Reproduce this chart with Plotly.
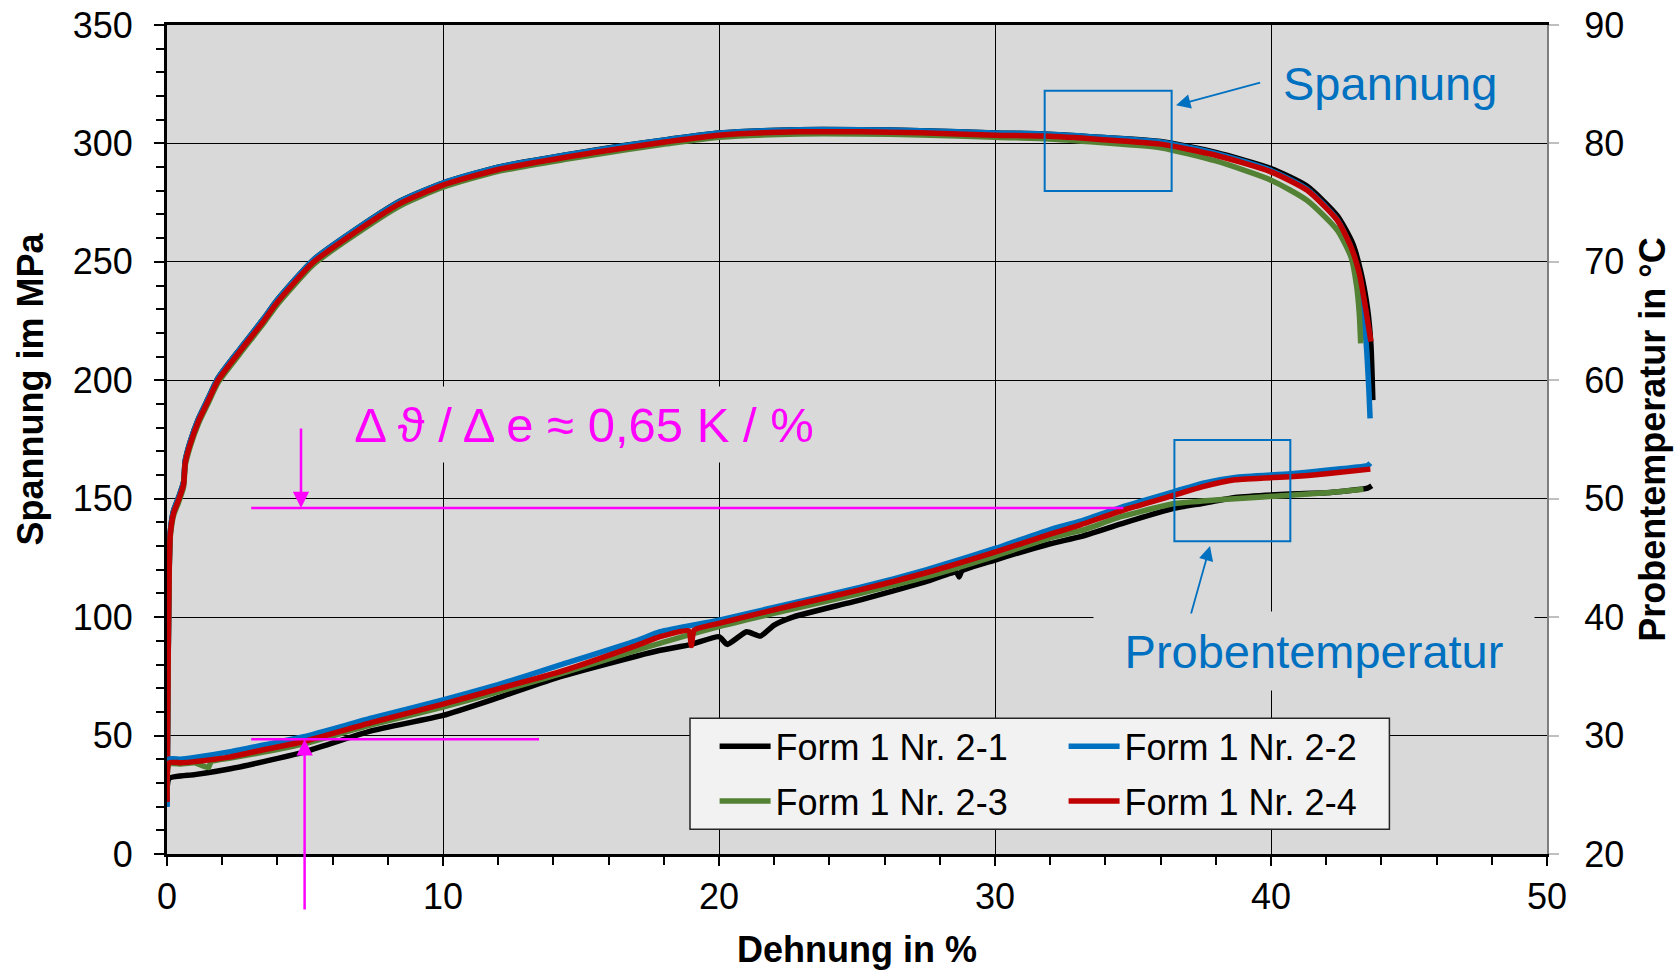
import plotly.graph_objects as go

# ---------------- data ----------------
# Stress curves: strain in %, stress in MPa
strain_s21 = [0.0, 0.04, 0.08, 0.12, 0.24, 0.42, 0.6, 0.66, 0.84, 1.15, 1.5, 1.85, 2.66, 3.5, 4.0, 5.3, 6.5, 8.45,
              10.0, 12.0, 14.5, 16.5, 18.1, 20.0, 22.9, 25.1, 27.3, 30.0, 31.8, 33.8, 36.0, 38.0, 40.0, 41.3, 42.4,
              42.95, 43.25, 43.5, 43.62, 43.69]
stress_21 = [22, 80, 121, 136, 145, 150.5, 157, 166, 174, 184, 192.5, 201, 213.5, 226, 234, 250.8, 261, 275.7,
             283.3, 290, 295.2, 299, 301.6, 304.4, 305.8, 305.8, 305.4, 304.4, 304.0, 302.6, 300.8, 296.2, 289.4,
             282, 269.5, 258, 246, 230, 215, 191.6]

strain_s22 = [0.0, 0.04, 0.08, 0.12, 0.24, 0.42, 0.6, 0.66, 0.84, 1.15, 1.5, 1.85, 2.66, 3.5, 4.0, 5.3, 6.5, 8.45,
              10.0, 12.0, 14.5, 16.5, 18.1, 20.0, 22.9, 25.1, 27.3, 30.0, 31.8, 33.8, 36.0, 38.0, 40.0, 41.3, 42.4,
              42.9, 43.1, 43.3, 43.44, 43.55, 43.59]
stress_22 = [20, 80, 121, 136, 145, 150.5, 157, 166, 174, 184, 192.5, 201, 213.5, 226, 234, 250.8, 261, 275.6,
             283.3, 290, 295.2, 298.9, 301.6, 304.4, 305.8, 305.8, 305.4, 304.4, 304.0, 302.6, 300.6, 295.8, 288.6,
             280.8, 267.8, 256, 248, 232, 217, 195, 183.9]

strain_s23 = [0.0, 0.04, 0.08, 0.12, 0.24, 0.42, 0.6, 0.66, 0.84, 1.15, 1.5, 1.85, 2.66, 3.5, 4.0, 5.3, 6.5, 8.45,
              10.0, 12.0, 14.5, 16.5, 18.1, 20.0, 22.9, 25.1, 27.3, 30.0, 31.8, 33.8, 36.0, 38.0, 40.0, 41.3, 42.4,
              42.9, 43.1, 43.2, 43.25]
stress_23 = [22, 79, 119, 134, 143, 148.5, 155, 164, 172, 182, 190.5, 199, 211.5, 224, 232, 248.8, 259, 273.7,
             281.5, 288.2, 293.4, 297.1, 299.8, 302.6, 304.0, 304.0, 303.6, 302.6, 302.0, 300.4, 298.2, 292.6, 284.5,
             276, 263.4, 252, 240, 228, 215.6]

strain_s24 = [0.0, 0.04, 0.08, 0.12, 0.24, 0.42, 0.6, 0.66, 0.84, 1.15, 1.5, 1.85, 2.66, 3.5, 4.0, 5.3, 6.5, 8.45,
              10.0, 12.0, 14.5, 16.5, 18.1, 20.0, 22.9, 25.1, 27.3, 30.0, 31.8, 33.8, 36.0, 38.0, 40.0, 41.3, 42.4,
              42.9, 43.2, 43.42, 43.62]
stress_24 = [22, 80, 120, 135, 144, 149.5, 156, 165, 173, 183, 191.5, 200, 212.5, 225, 233, 249.8, 260, 274.7,
             282.4, 289, 294.3, 298, 300.7, 303.5, 304.9, 304.9, 304.5, 303.5, 303.1, 301.7, 299.7, 295, 288,
             280.3, 267.6, 256.3, 245.1, 231, 216.3]

# Specimen temperature curves: strain in %, temperature in °C
strain_t21 = [0.0, 0.08, 1.0, 2.3, 3.5, 4.95, 7.4, 10.0, 12.0, 14.25, 17.0, 17.87, 19.0, 20.0, 20.3,
              21.0, 21.5, 22.0, 22.7, 25.1, 27.5, 28.6, 28.7, 28.8, 30.0, 32.0, 33.1, 34.6, 36.5, 37.5, 38.7, 40.7,
              42.0, 43.5, 43.65]
temp_21 = [25.5, 26.4, 26.7, 27.2, 27.8, 28.6, 30.4, 31.7, 33.2, 34.97, 36.7, 37.2, 37.7, 38.35, 37.7,
           38.77, 38.4, 39.33, 40.03, 41.44, 43.0, 43.8, 43.4, 43.9, 44.82, 46.2, 46.8, 47.9, 49.2, 49.6, 50.1, 50.4,
           50.5, 50.9, 51.1]

strain_t22 = [0.0, 0.05, 0.5, 1.0, 2.3, 3.5, 4.95, 7.4, 10.0, 12.0, 14.25, 17.0, 17.87, 20.0, 22.5, 25.1, 27.5, 30.0,
              32.0, 33.1, 34.6, 36.5, 37.5, 38.7, 40.7, 42.0, 43.5, 43.6]
temp_22 = [24.0, 28.0, 28.0, 28.15, 28.64, 29.2, 29.9, 31.46, 33.0, 34.3, 35.96, 38.0, 38.77, 39.75, 41.1, 42.5,
           44.0, 45.8, 47.4, 48.1, 49.3, 50.6, 51.3, 51.8, 52.1, 52.4, 52.8, 53.0]

strain_t23 = [0.0, 0.08, 0.5, 1.0, 1.5, 1.6, 2.3, 3.5, 4.95, 7.4, 10.0, 12.0, 14.25, 17.0, 20.0, 22.5, 25.1, 27.5,
              30.0, 32.0, 33.1, 34.6, 36.5, 37.5, 38.7, 40.7, 42.0, 43.35]
temp_23 = [25.0, 27.6, 27.6, 27.7, 27.3, 27.8, 28.1, 28.6, 29.3, 30.9, 32.4, 33.7, 35.2, 37.2, 39.2, 40.6, 42.0,
           43.4, 45.16, 46.7, 47.3, 48.5, 49.6, 49.8, 50.0, 50.3, 50.5, 50.8]

strain_t24 = [0.0, 0.08, 0.5, 1.0, 2.3, 3.5, 4.95, 7.4, 10.0, 12.0, 14.25, 17.0, 17.87, 18.9, 19.0, 19.1, 20.0,
              22.5, 25.1, 27.5, 30.0, 32.0, 33.1, 34.6, 36.5, 37.5, 38.7, 40.7, 42.0, 43.6]
temp_24 = [24.4, 27.7, 27.7, 27.8, 28.2, 28.8, 29.5, 31.1, 32.66, 33.95, 35.4, 37.6, 38.35, 38.85, 37.6, 38.9,
           39.48, 40.9, 42.3, 43.75, 45.5, 47.0, 47.8, 49.0, 50.3, 51.0, 51.6, 51.85, 52.1, 52.5]

series_names = ["Form 1 Nr. 2-1", "Form 1 Nr. 2-2", "Form 1 Nr. 2-3", "Form 1 Nr. 2-4"]
series_colors = ["#000000", "#0070C0", "#548235", "#C00000"]

# ---------------- figure ----------------
FONT = "Liberation Sans, Arial, sans-serif"
W, H = 1679, 970
# plot area on screen: x 167..1547, y 25..854
PX0, PX1, PY0, PY1 = 167, 1547, 25, 854
ML, MT = PX0, PY0
MR = W - PX1
MB = H - PY1
PW, PH = PX1 - PX0, PY1 - PY0


def px_x(p):
    return (p - PX0) / PW


def px_y(p):
    return (PY1 - p) / PH


fig = go.Figure()

stress_sets = [(strain_s21, stress_21), (strain_s22, stress_22), (strain_s23, stress_23), (strain_s24, stress_24)]
temp_sets = [(strain_t21, temp_21), (strain_t22, temp_22), (strain_t23, temp_23), (strain_t24, temp_24)]
legend_ids = ["legend", "legend2", "legend", "legend2"]

for i, (sx, sy) in enumerate(stress_sets):
    fig.add_trace(go.Scatter(
        x=sx, y=sy, mode="lines", name=series_names[i],
        line=dict(color=series_colors[i], width=5.5, shape="spline", smoothing=0.6),
        legendgroup=f"g{i}", legend=legend_ids[i], showlegend=True,
        yaxis="y",
    ))

for i, (tx, ty) in enumerate(temp_sets):
    fig.add_trace(go.Scatter(
        x=tx, y=ty, mode="lines", name=series_names[i],
        line=dict(color=series_colors[i], width=5.5, shape="spline", smoothing=0.5),
        legendgroup=f"g{i}", legend=legend_ids[i], showlegend=False,
        yaxis="y2",
    ))

MAG = "#FF00FF"
BLUE = "#0070C0"

shapes = [
    # legend box
    dict(type="rect", xref="paper", yref="paper", x0=px_x(690), x1=px_x(1389.4), y0=px_y(829.3), y1=px_y(718.3),
         fillcolor="#F2F2F2", line=dict(color="#262626", width=1.5), layer="above"),
    # blue highlight boxes
    dict(type="rect", xref="x", yref="y", x0=31.8, x1=36.4, y0=279.9, y1=322.2,
         line=dict(color=BLUE, width=2), layer="above"),
    dict(type="rect", xref="x", yref="y2", x0=36.5, x1=40.7, y0=46.4, y1=54.96,
         line=dict(color=BLUE, width=2), layer="above"),
    # magenta reference lines
    dict(type="line", xref="x", yref="y2", x0=3.05, x1=34.65, y0=49.21, y1=49.21,
         line=dict(color=MAG, width=2.5), layer="above"),
    dict(type="line", xref="x", yref="y2", x0=3.05, x1=13.48, y0=29.68, y1=29.68,
         line=dict(color=MAG, width=2.5), layer="above"),
]

tickfont = dict(family=FONT, size=36, color="#000000")
titlefont = dict(family=FONT, size=36, color="#000000", weight="bold")

annotations = [
    # left axis title (placed as in the reference, above the axis centre)
    dict(text="Spannung im MPa", x=px_x(30), y=px_y(389.5), xref="paper", yref="paper",
         xanchor="center", yanchor="middle", textangle=-90, showarrow=False, font=titlefont),
    dict(text="Spannung", x=40.35, y=325.5, xref="x", yref="y", xanchor="left", yanchor="middle",
         showarrow=False, font=dict(family=FONT, size=47, color=BLUE)),
    dict(text="", x=36.56, y=316.1, xref="x", yref="y", ax=39.66, ay=325.8, axref="x", ayref="y",
         showarrow=True, arrowhead=2, arrowsize=1.6, arrowwidth=1.8, arrowcolor=BLUE, standoff=0),
    dict(text="Probentemperatur", x=41.55, y=37.14, xref="x", yref="y2", xanchor="center", yanchor="middle",
         showarrow=False, width=440, height=78, borderpad=0, bgcolor="#D9D9D9",
         font=dict(family=FONT, size=47, color=BLUE)),
    dict(text="", x=37.79, y=46.0, xref="x", yref="y2", ax=37.09, ay=40.18, axref="x", ayref="y2",
         showarrow=True, arrowhead=2, arrowsize=1.6, arrowwidth=1.8, arrowcolor=BLUE, standoff=0),
    dict(text="Δ ϑ / Δ e ≈ 0,65 K / %", x=15.12, y=181.3, xref="x", yref="y", xanchor="center",
         yanchor="middle", showarrow=False, width=490, height=75, borderpad=0, bgcolor="#D9D9D9",
         font=dict(family=FONT, size=49, color=MAG)),
    dict(text="", x=4.855, y=49.21, xref="x", yref="y2", ax=4.855, ay=56.05, axref="x", ayref="y2",
         showarrow=True, arrowhead=2, arrowsize=1.3, arrowwidth=2.5, arrowcolor=MAG, standoff=0),
    dict(text="", x=4.986, y=29.68, xref="x", yref="y2", ax=4.986, ay=15.19, axref="x", ayref="y2",
         showarrow=True, arrowhead=2, arrowsize=1.3, arrowwidth=2.5, arrowcolor=MAG, standoff=0),
]

fig.update_layout(
    width=W, height=H,
    margin=dict(l=ML, r=MR, t=MT, b=MB, autoexpand=False),
    paper_bgcolor="#FFFFFF", plot_bgcolor="#D9D9D9",
    font=dict(family=FONT, color="#000000"),
    xaxis=dict(
        range=[0, 50], tick0=0, dtick=10, showgrid=True, gridcolor="#000000", gridwidth=1.2,
        zeroline=False, showline=True, linecolor="#000000", linewidth=3, mirror=True,
        ticks="outside", ticklen=9, tickwidth=2, tickcolor="#000000", ticklabelstandoff=0,
        ticklabeloverflow="allow",
        minor=dict(dtick=2, ticks="outside", ticklen=8, tickwidth=2, tickcolor="#000000", showgrid=False),
        tickfont=tickfont,
        title=dict(text="Dehnung in %", font=titlefont, standoff=30),
    ),
    yaxis=dict(
        range=[0, 350], tick0=0, dtick=50, showgrid=True, gridcolor="#000000", gridwidth=1.2,
        zeroline=False, showline=True, linecolor="#000000", linewidth=3,
        ticks="outside", ticklen=10, tickwidth=2, tickcolor="#000000", ticklabelstandoff=14,
        ticklabeloverflow="allow",
        minor=dict(dtick=10, ticks="outside", ticklen=8, tickwidth=2, tickcolor="#000000", showgrid=False),
        tickfont=tickfont,
    ),
    yaxis2=dict(
        range=[20, 90], tick0=20, dtick=10, overlaying="y", side="right", showgrid=False, zeroline=False,
        showline=True, linecolor="#7F7F7F", linewidth=2,
        ticks="outside", ticklen=10, tickwidth=2, tickcolor="#BFBFBF", ticklabelstandoff=18,
        ticklabeloverflow="allow",
        tickfont=tickfont,
        title=dict(text="Probentemperatur in °C", font=titlefont, standoff=17),
    ),
    legend=dict(
        x=px_x(714.6), y=px_y(716.4), xanchor="left", yanchor="top", orientation="v",
        bgcolor="rgba(0,0,0,0)", borderwidth=0, itemwidth=51, traceorder="grouped", tracegroupgap=5,
        font=dict(family=FONT, size=36, color="#000000"),
    ),
    legend2=dict(
        x=px_x(1063.6), y=px_y(716.4), xanchor="left", yanchor="top", orientation="v",
        bgcolor="rgba(0,0,0,0)", borderwidth=0, itemwidth=51, traceorder="grouped", tracegroupgap=5,
        font=dict(family=FONT, size=36, color="#000000"),
    ),
    shapes=shapes,
    annotations=annotations,
)

# remove the default 8px page margin so the figure fills the window exactly
fig.write_html(
    "out.html",
    config={"displayModeBar": False},
    post_script="document.body.style.margin='0';document.body.style.overflow='hidden';",
)
